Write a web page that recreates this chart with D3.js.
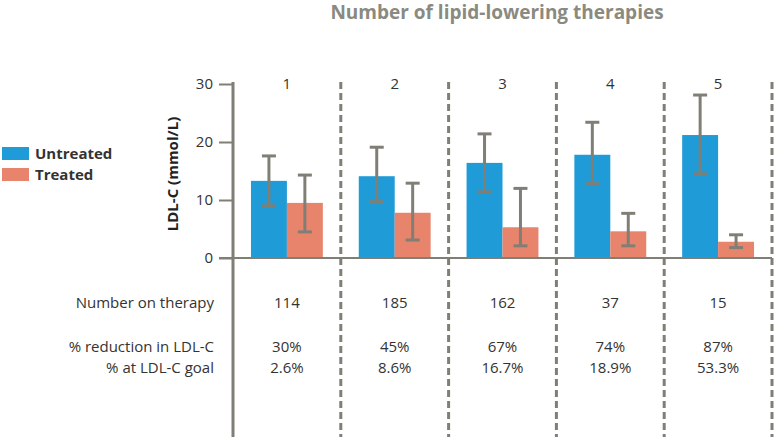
<!DOCTYPE html>
<html>
<head>
<meta charset="utf-8">
<script src="https://cdn.jsdelivr.net/npm/d3@7"></script>
<style>
  body { margin: 0; background: #fff; }
  svg { font-family: "Open Sans", sans-serif; }
</style>
</head>
<body>
<div id="chart"></div>
<script>
// data
const groups = ["1", "2", "3", "4", "5"];
const series = ["Untreated", "Treated"];
const untreatedMean = [13.3, 14.1, 16.4, 17.8, 21.2];
const untreatedLow  = [9.0, 9.7, 11.4, 12.8, 14.5];
const untreatedHigh = [17.6, 19.1, 21.4, 23.4, 28.1];
const treatedMean = [9.5, 7.8, 5.3, 4.6, 2.8];
const treatedLow  = [4.5, 3.1, 2.1, 2.1, 1.8];
const treatedHigh = [14.3, 12.9, 12.0, 7.7, 4.0];
const yTicks = [0, 10, 20, 30];
const rowLabels = ["Number on therapy", "% reduction in LDL-C", "% at LDL-C goal"];
const numberOnTherapy = ["114", "185", "162", "37", "15"];
const pctReduction = ["30%", "45%", "67%", "74%", "87%"];
const pctAtGoal = ["2.6%", "8.6%", "16.7%", "18.9%", "53.3%"];

const W = 777, H = 439;
const grey = "#807f76";
const colors = {"Untreated": "#1f9bd7", "Treated": "#e8836c"};
const textCol = "#333";

const svg = d3.select("#chart").append("svg")
    .attr("width", W).attr("height", H);

// scales
const x = d3.scaleBand().domain(groups).range([233, 772]).paddingInner(0).paddingOuter(0);
const xs = d3.scaleBand().domain(series).range([0, x.bandwidth()]).paddingInner(0).paddingOuter(0.5);
const y = d3.scaleLinear().domain([0, 30]).range([258, 84]);

// build rows for bars
let bars = [];
groups.forEach((g, i) => {
    bars.push({g: g, s: "Untreated", v: untreatedMean[i], lo: untreatedLow[i], hi: untreatedHigh[i]});
    bars.push({g: g, s: "Treated", v: treatedMean[i], lo: treatedLow[i], hi: treatedHigh[i]});
});

// title
svg.append("text")
    .attr("x", 497).attr("y", 19)
    .attr("text-anchor", "middle")
    .style("font-size", "19px").style("font-weight", "bold")
    .attr("fill", "#8a8a80")
    .text("Number of lipid-lowering therapies");

// dashed group separators
svg.append("g").selectAll("line")
    .data(groups)
    .enter().append("line")
    .attr("x1", d => x(d) + x.bandwidth()).attr("x2", d => x(d) + x.bandwidth())
    .attr("y1", 82).attr("y2", 437)
    .attr("stroke", grey).attr("stroke-width", 3)
    .attr("stroke-dasharray", "7,4");

// bars
svg.append("g").selectAll("rect")
    .data(bars)
    .enter().append("rect")
    .attr("x", d => x(d.g) + xs(d.s))
    .attr("y", d => y(d.v))
    .attr("width", xs.bandwidth())
    .attr("height", d => y(0) - y(d.v))
    .attr("fill", d => colors[d.s]);

// error bars
const err = svg.append("g").attr("stroke", grey).attr("stroke-width", 3);
bars.forEach(d => {
    let cx = x(d.g) + xs(d.s) + xs.bandwidth() / 2;
    err.append("line").attr("x1", cx).attr("x2", cx).attr("y1", y(d.lo)).attr("y2", y(d.hi));
    err.append("line").attr("x1", cx - 7).attr("x2", cx + 7).attr("y1", y(d.hi)).attr("y2", y(d.hi));
    err.append("line").attr("x1", cx - 7).attr("x2", cx + 7).attr("y1", y(d.lo)).attr("y2", y(d.lo));
});

// baseline
svg.append("line")
    .attr("x1", 219).attr("x2", 772)
    .attr("y1", y(0)).attr("y2", y(0))
    .attr("stroke", grey).attr("stroke-width", 2);

// y axis
const yAxis = svg.append("g")
    .attr("transform", "translate(233,0)")
    .call(d3.axisLeft(y).tickValues(yTicks).tickSize(14).tickPadding(6));
yAxis.select(".domain").remove();
yAxis.selectAll(".tick line").attr("stroke", grey).attr("stroke-width", 2);
yAxis.selectAll(".tick text")
    .style("font-size", "15px").style("font-family", "Open Sans, sans-serif")
    .attr("fill", textCol);
svg.append("line")
    .attr("x1", 233).attr("x2", 233).attr("y1", 82).attr("y2", 437)
    .attr("stroke", grey).attr("stroke-width", 3);

// y label
svg.append("text")
    .attr("transform", "translate(178,174)rotate(-90)")
    .attr("text-anchor", "middle")
    .style("font-size", "15px").style("font-weight", "bold")
    .attr("fill", "#222")
    .text("LDL-C (mmol/L)");

// group numbers
svg.append("g").selectAll("text")
    .data(groups)
    .enter().append("text")
    .attr("x", d => x(d) + x.bandwidth() / 2)
    .attr("y", 89)
    .attr("text-anchor", "middle")
    .style("font-size", "15px")
    .attr("fill", textCol)
    .text(d => d);

// legend
const legend = svg.append("g");
series.forEach((s, i) => {
    legend.append("rect")
        .attr("x", 2).attr("y", 147 + i * 21)
        .attr("width", 27).attr("height", 13)
        .attr("fill", colors[s]);
    legend.append("text")
        .attr("x", 35).attr("y", 159 + i * 21)
        .style("font-size", "15px").style("font-weight", "bold")
        .attr("fill", "#333")
        .text(s);
});

// table rows
const rowY = [303, 347, 368];
const rowVals = [numberOnTherapy, pctReduction, pctAtGoal];
rowLabels.forEach((lab, r) => {
    svg.append("text")
        .attr("x", 214).attr("y", rowY[r])
        .attr("dy", "0.35em")
        .attr("text-anchor", "end")
        .style("font-size", "15px")
        .attr("fill", textCol)
        .text(lab);
    svg.append("g").selectAll("text")
        .data(groups)
        .enter().append("text")
        .attr("x", d => x(d) + x.bandwidth() / 2)
        .attr("y", rowY[r])
        .attr("dy", "0.35em")
        .attr("text-anchor", "middle")
        .style("font-size", "15px")
        .attr("fill", textCol)
        .text((d, i) => rowVals[r][i]);
});
</script>
</body>
</html>
